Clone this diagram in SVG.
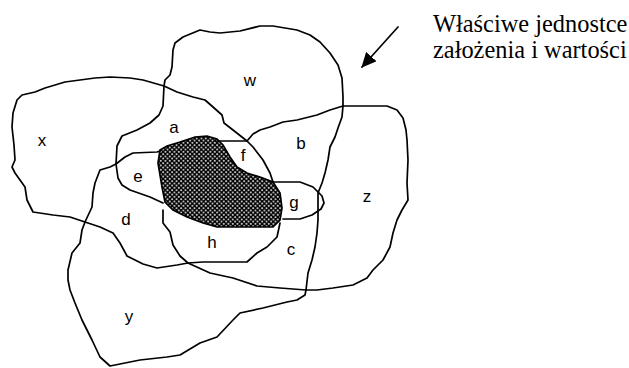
<svg xmlns="http://www.w3.org/2000/svg" width="629" height="368" viewBox="0 0 629 368">
<defs>
<pattern id="dots" patternUnits="userSpaceOnUse" width="4.5" height="4.5">
<rect width="4.5" height="4.5" fill="#000"/>
<circle cx="1.1" cy="1.1" r="0.95" fill="#fff"/>
<circle cx="3.35" cy="3.35" r="0.95" fill="#fff"/>
</pattern>
<marker id="head" markerWidth="16" markerHeight="14" refX="14" refY="7" orient="auto" markerUnits="userSpaceOnUse">
<path d="M0,0 L15,7 L0,14 Z" fill="#000"/>
</marker>
</defs>
<style>
.ln{fill:none;stroke:#000;stroke-width:1.7;stroke-linejoin:round;stroke-linecap:round}
.lb{font-family:"Liberation Sans",Arial,sans-serif;font-size:17px;fill:#000;text-anchor:middle}
.tx{font-family:"Liberation Serif","Times New Roman",serif;font-size:24.4px;fill:#000}
</style>
<rect width="629" height="368" fill="#fff"/>
<g id="core">
<path d="M160,150 L167,146 L180,142 L195,137 L207,136 L217,139 L223,145 L230,157 L237,167 L247,173 L260,177 L273,182 L280,193 L282,208 L280,220 L273,227 L240,227 L217,227 L203,223 L187,217 L173,210 L165,202 L162,187 L158,163 Z" fill="url(#dots)" stroke="#000" stroke-width="1.7"/>
</g>
<g id="connectors">
<path class="ln" d="M164,86 L165,80 L170,75 L172,67 L173,50 L175,43 L183,37 L200,30 L210,32 L220,33 L240,31 L260,26 L273,26 L297,30 L310,35 L320,42 L330,53 L338,65 L342,78 L343,97 L343,106"/>
<path class="ln" d="M343,106 L330,110 L317,115 L297,120 L283,122 L270,127 L260,130 L253,134 L247,141"/>
<path class="ln" d="M164,86 L177,92 L193,97 L205,100 L213,107 L222,115 L224,123 L233,130 L247,141 L253,147 L263,160 L270,173 L273,182"/>
<path class="ln" d="M164,86 L163,106 L159,115 L150,123 L137,130 L122,136 L117,146 L116,164"/>
<path class="ln" d="M164,86 L143,80 L130,78 L110,77 L95,78 L80,80 L65,82 L45,88 L35,92 L22,95 L17,100 L13,113 L12,127 L14,145 L15,160 L12,167 L15,173 L25,187 L27,200 L33,212 L53,215 L70,217 L85,222"/>
<path class="ln" d="M116,164 L110,167 L100,170 L95,183 L93,193 L92,207 L85,222"/>
<path class="ln" d="M85,222 L82,230 L80,243 L72,253 L68,270 L68,280 L70,290 L75,303 L82,320 L92,340 L100,357 L110,366 L140,360 L167,357 L180,355 L200,343 L217,337 L233,320 L240,313 L263,308 L287,302 L297,300 L305,295 L306,290"/>
<path class="ln" d="M85,222 L100,227 L113,233 L120,243 L127,256 L143,264 L157,268 L177,265 L188,263 L210,273 L233,278 L257,286 L280,288 L306,290"/>
<path class="ln" d="M116,164 L125,157 L133,153 L157,152 L160,151"/>
<path class="ln" d="M116,164 L118,178 L122,185 L130,190 L150,197 L163,203"/>
<path class="ln" d="M163,210 L163,223 L170,232 L173,245 L180,256 L188,263"/>
<path class="ln" d="M188,263 L203,262 L247,262 L257,253 L267,247 L277,237 L280,223"/>
<path class="ln" d="M273,182 L300,182 L313,187 L322,196 L324,203 L321,209 L312,215 L300,219 L283,219"/>
<path class="ln" d="M343,106 L363,106 L387,106 L397,110 L403,118 L406,130 L407,140 L408,160 L407,183 L408,200 L402,210 L397,220 L393,233 L390,247 L383,260 L373,270 L367,278 L353,285 L333,288 L317,290 L306,290"/>
<path class="ln" d="M343,106 L342,117 L338,128 L335,137 L330,147 L328,160 L325,173 L322,183 L318,193 L318,207 L318,220 L317,233 L315,247 L312,260 L308,273 L306,290"/>
<path class="ln" d="M217,141 L247,141"/>
<path class="ln" d="M398,27 L362,67" marker-end="url(#head)"/>
</g>
<g id="labels">
<text class="lb" x="250" y="86">w</text>
<text class="lb" x="42" y="146">x</text>
<text class="lb" x="174" y="133">a</text>
<text class="lb" x="301" y="149">b</text>
<text class="lb" x="243" y="161">f</text>
<text class="lb" x="138" y="182">e</text>
<text class="lb" x="294" y="208">g</text>
<text class="lb" x="367" y="202">z</text>
<text class="lb" x="126" y="225">d</text>
<text class="lb" x="212" y="248">h</text>
<text class="lb" x="291" y="255">c</text>
<text class="lb" x="129" y="322">y</text>
</g>
<g id="caption">
<text class="tx" x="433" y="32">Właściwe jednostce</text>
<text class="tx" x="433" y="58">założenia i wartości</text>
</g>
</svg>
